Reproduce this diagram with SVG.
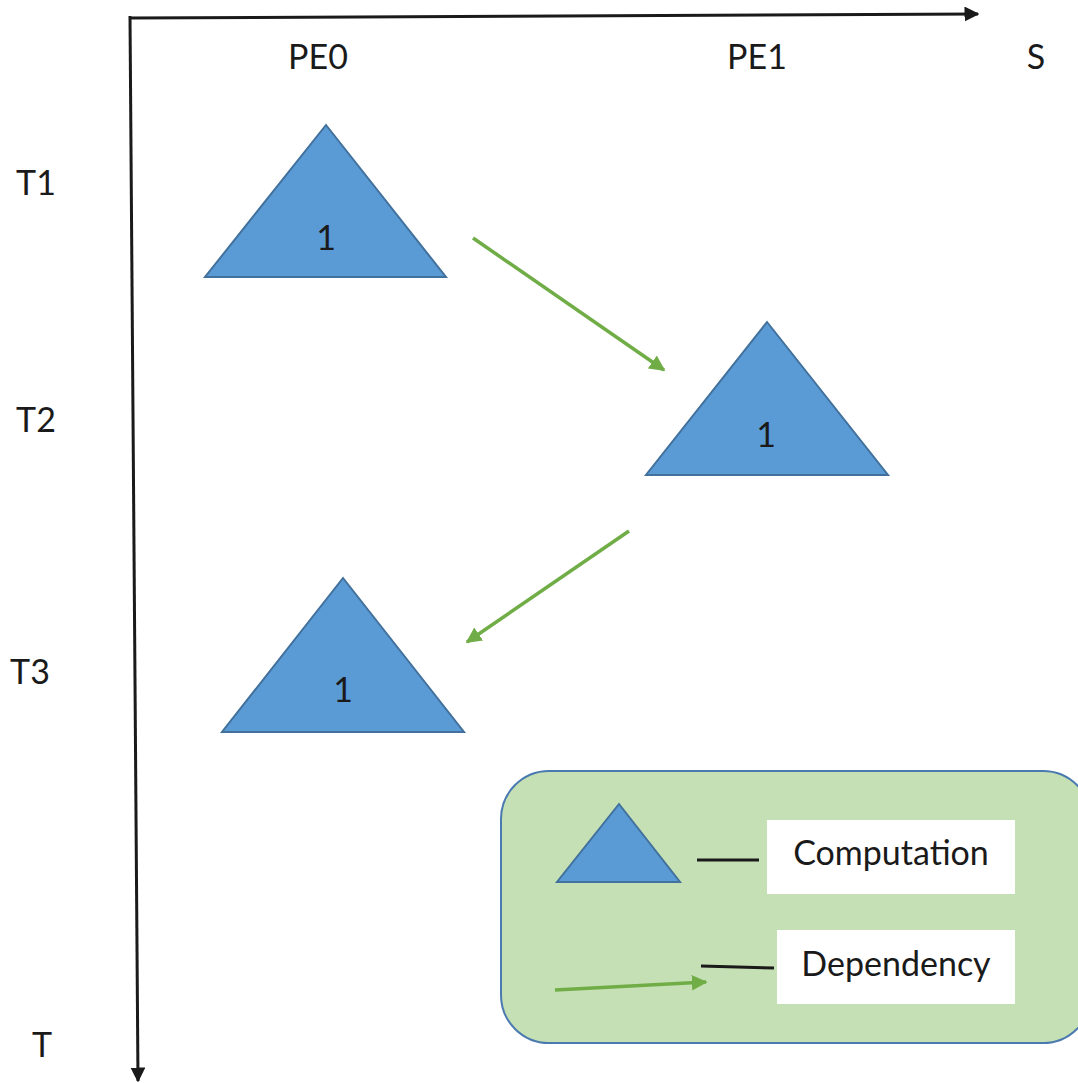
<svg xmlns="http://www.w3.org/2000/svg" width="1078" height="1083" viewBox="0 0 1078 1083">
  <style>
    .lbl { font-family: Lato, "Open Sans", "Liberation Sans", sans-serif; font-size: 34px; fill: #1a1a1a; text-anchor: middle; dominant-baseline: central; }
    .comp { fill: #5B9BD5; stroke: #41719C; stroke-width: 2; }
    .axis { stroke: #1a1a1a; stroke-width: 3; fill: none; }
    .dep { stroke: #70AD47; stroke-width: 3.5; fill: none; }
    .tick { stroke: #1a1a1a; stroke-width: 3; }
  </style>
  <defs>
    <marker id="axisHead" viewBox="0 0 10 10" refX="9" refY="5" markerWidth="5" markerHeight="5" orient="auto" markerUnits="strokeWidth">
      <path d="M0,0 L10,5 L0,10 z" fill="#1a1a1a"/>
    </marker>
    <marker id="depHead" viewBox="0 0 10 10" refX="9" refY="5" markerWidth="4.5" markerHeight="4.5" orient="auto" markerUnits="strokeWidth">
      <path d="M0,0 L10,5 L0,10 z" fill="#70AD47"/>
    </marker>
  </defs>

  <rect width="1078" height="1083" fill="#ffffff"/>

  <!-- axes -->
  <g id="axes">
    <line class="axis" x1="130" y1="18" x2="978" y2="14" marker-end="url(#axisHead)"/>
    <line class="axis" x1="130" y1="16" x2="138" y2="1081" marker-end="url(#axisHead)"/>
  </g>

  <!-- axis labels -->
  <g id="labels">
    <text class="lbl" x="318" y="55">PE0</text>
    <text class="lbl" x="757" y="55">PE1</text>
    <text class="lbl" x="1036" y="55">S</text>
    <text class="lbl" x="36" y="181">T1</text>
    <text class="lbl" x="36" y="418">T2</text>
    <text class="lbl" x="30" y="670">T3</text>
    <text class="lbl" x="42" y="1043">T</text>
  </g>

  <!-- computation nodes -->
  <g id="node-pe0-t1">
    <polygon class="comp" points="326,125 446,277 205,277"/>
    <text class="lbl" x="326" y="236">1</text>
  </g>
  <g id="node-pe1-t2">
    <polygon class="comp" points="767,322 888,475 646,475"/>
    <text class="lbl" x="766" y="433">1</text>
  </g>
  <g id="node-pe0-t3">
    <polygon class="comp" points="343,578 464,732 222,732"/>
    <text class="lbl" x="343" y="688">1</text>
  </g>

  <!-- dependencies -->
  <g id="connectors">
    <line class="dep" x1="473" y1="238" x2="664" y2="370" marker-end="url(#depHead)"/>
    <line class="dep" x1="629" y1="531" x2="467" y2="642" marker-end="url(#depHead)"/>
  </g>

  <!-- legend -->
  <g id="legend">
    <rect x="501" y="771" width="590" height="272" rx="48" ry="48" fill="#C5E0B4" stroke="#4A7AB0" stroke-width="2"/>
    <polygon class="comp" points="619,804 680,882 557,882"/>
    <line class="tick" x1="697" y1="860" x2="759" y2="860"/>
    <rect x="767" y="820" width="248" height="74" fill="#ffffff"/>
    <text class="lbl" x="891" y="851">Computation</text>
    <line class="dep" x1="555" y1="990" x2="706" y2="982" marker-end="url(#depHead)"/>
    <line class="tick" x1="701" y1="966" x2="774" y2="968"/>
    <rect x="777" y="930" width="238" height="74" fill="#ffffff"/>
    <text class="lbl" x="896" y="962">Dependency</text>
  </g>
</svg>
